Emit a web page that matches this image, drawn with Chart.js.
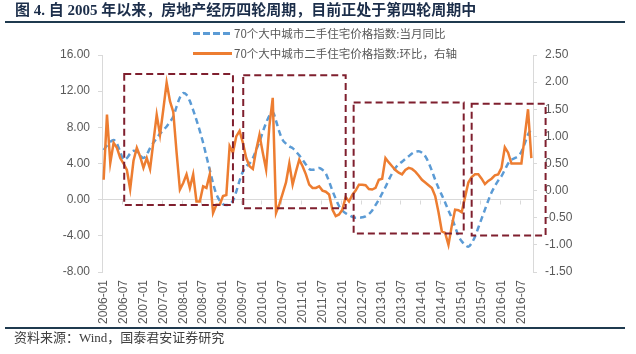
<!DOCTYPE html>
<html>
<head>
<meta charset="utf-8">
<script src="https://cdn.jsdelivr.net/npm/chart.js@4.4.1/dist/chart.umd.min.js"></script>
<style>
  html, body { margin: 0; padding: 0; background: #fff; }
  #wrap { position: relative; width: 636px; height: 354px; overflow: hidden; font-family: 'Noto Sans CJK SC', sans-serif; }
  #wrap canvas { position: absolute; left: 0; top: 0; }
  .title { position: absolute; left: 15px; top: 0; font-family: 'Liberation Serif', 'Noto Sans CJK SC', serif; font-size: 15px; font-weight: 700; color: #1c2e4a; line-height: 20px; white-space: nowrap; }
  .rule { position: absolute; left: 5px; width: 620px; height: 2px; background: #1f3a4f; }
  .legend { position: absolute; left: 193px; font-size: 11.5px; color: #595959; line-height: 14px; white-space: nowrap; display: flex; align-items: center; }
  .legend i { display: inline-block; width: 39px; height: 3px; margin-right: 2px; }
  .source { position: absolute; left: 14px; top: 330px; font-family: 'Liberation Serif', 'Noto Sans CJK SC', serif; font-size: 13px; line-height: 16px; color: #404040; white-space: nowrap; }
</style>
</head>
<body>
<div id="wrap">
  <canvas id="chart" width="636" height="354"></canvas>
  <div class="title">图 4. 自 2005 年以来，房地产经历四轮周期，目前正处于第四轮周期中</div>
  <div class="rule" style="top:21px"></div>
  <div id="legend"></div>
  <div class="rule" style="top:327px"></div>
  <div class="source">资料来源：Wind，国泰君安证券研究</div>
</div>
<script>
/* 70-city second-hand housing price index, monthly from 2006-01 */

const START_YEAR = 2006;
const N_MONTHS   = 130;

const SERIES_YOY = '70个大中城市二手住宅价格指数:当月同比';
const SERIES_MOM = '70个大中城市二手住宅价格指数:环比，右轴';

// year-on-year, %, left axis
const yoy = [
   5.5,  6.0,  6.4,  6.6,  6.2,  5.3,  4.4,  4.6,  5.1,  5.4,
   5.3,  4.9,  4.6,  5.0,  5.7,  6.3,  6.8,  7.3,  7.7,  8.1,
   8.6,  9.2, 10.3, 11.3, 11.8, 11.6, 10.9,  9.9,  8.8,  7.6,
   6.3,  4.8,  3.3,  1.8,  0.6, -0.1, -0.5, -0.6, -0.5, -0.1,
   0.9,  2.1,  3.1,  3.7,  4.0,  4.6,  5.5,  6.4,  7.5,  8.5,
   9.3,  9.7,  8.7,  7.5,  6.6,  6.2,  5.9,  5.7,  5.3,  4.9,
   4.4,  3.9,  3.4,  3.3,  3.4,  3.5,  3.3,  2.9,  2.0,  1.0,
   0.1, -0.7, -1.2, -1.5, -1.7, -1.9, -2.0, -2.0, -1.95, -1.85,
  -1.6, -1.2, -0.6,  0.0,  0.7,  1.4,  2.2,  2.9,  3.5,  3.9,
   4.2,  4.5,  4.8,  5.1,  5.3,  5.35, 5.2,  4.8,  4.1,  3.2,
   2.2,  1.3,  0.5, -0.3, -1.2, -2.0, -3.0, -4.0, -4.6, -5.0,
  -5.2, -4.8, -4.1, -3.1, -2.1, -1.1, -0.1,  0.8,  1.5,  2.1,
   2.6,  3.3,  4.0,  4.4,  4.6,  4.8,  5.3,  6.2,  7.2,  7.8,
];

// month-on-month, %, right axis
const mom = [
   0.20,  1.40,  0.51,  0.88,  0.79,  0.60,  0.50,  0.38,  0.03,  0.55,
   0.79,  0.63,  0.42,  0.60,  0.40,  0.90,  1.40,  1.03,  1.50,  1.99,
   1.65,  1.45,  0.70,  0.02,  0.14,  0.30,  0.05,  0.30, -0.20, -0.20,
   0.08,  0.05,  0.30, -0.41, -0.26, -0.26, -0.10, -0.08,  0.82,  0.70,
   1.00,  1.10,  0.88,  0.60,  0.45,  0.40,  0.75,  1.03,  0.70,  0.39,
   1.20,  1.71, -0.41, -0.25, -0.05,  0.15,  0.50,  0.11,  0.35,  0.57,
   0.45,  0.30,  0.11,  0.05,  0.05,  0.08,  0.00, -0.02, -0.07, -0.35,
  -0.47, -0.44, -0.35, -0.12, -0.20, -0.08,  0.00,  0.11,  0.11,  0.10,
   0.03,  0.02,  0.05,  0.20,  0.22,  0.60,  0.52,  0.45,  0.38,  0.33,
   0.30,  0.38,  0.42,  0.40,  0.35,  0.28,  0.20,  0.15,  0.10,  0.05,
  -0.10, -0.40, -0.75, -0.78, -1.00, -0.65, -0.35, -0.36, -0.40, -0.12,
   0.15,  0.25,  0.30,  0.30,  0.22,  0.12,  0.18,  0.22,  0.28,  0.30,
   0.42,  0.80,  0.70,  0.50,  0.50,  0.50,  0.50,  1.00,  1.50,  0.60,
];

const leftTicks  = [-8, -4, 0, 4, 8, 12, 16];
const rightTicks = [-1.5, -1.0, -0.5, 0, 0.5, 1.0, 1.5, 2.0, 2.5];

// the four cycles: [from month index, to month index, top, bottom] in left-axis units
const cycles = [
  [6.2,   39.0, 13.9, -0.6],
  [42.1,  73.0, 13.75, -0.95],
  [75.4, 108.6, 10.75, -3.75],
  [111.0, 133.3, 10.6, -3.95],
];

const months = [];
for (let i = 0; i < N_MONTHS; i++) {
  const y = START_YEAR + Math.floor(i / 12);
  const m = (i % 12) + 1;
  months.push(y + '-' + String(m).padStart(2, '0'));
}

const BLUE   = '#5B9BD5';
const ORANGE = '#ED7D31';
const AXIS   = '#d9d9d9';
const TEXT   = '#595959';
const BOX    = '#7f1f2e';
const FONT   = "'Liberation Sans', Arial, sans-serif";

/* ── legend (html) ── */
const legend = document.getElementById('legend');
[
  { label: SERIES_YOY, top: 26, swatch: `repeating-linear-gradient(to right, ${BLUE} 0 7px, transparent 7px 10px)` },
  { label: SERIES_MOM, top: 46, swatch: ORANGE },
].forEach(it => {
  const row = document.createElement('div');
  row.className = 'legend';
  row.style.top = it.top + 'px';
  row.innerHTML = `<i style="background:${it.swatch}"></i><span>${it.label}</span>`;
  legend.appendChild(row);
});

/* ── dashed cycle boxes + small ticks on the zero line ── */
const cycleBoxes = {
  id: 'cycleBoxes',
  beforeDatasetsDraw(chart) {
    const { ctx, scales: { x, y } } = chart;
    const y0 = Math.round(y.getPixelForValue(0)) + 0.5;
    ctx.save();
    ctx.strokeStyle = AXIS;
    ctx.lineWidth = 1;
    months.forEach((m, i) => {
      if (!m.endsWith('-01') && !m.endsWith('-07')) return;
      const px = Math.round(x.getPixelForValue(i - 0.5)) + 0.5;
      ctx.beginPath();
      ctx.moveTo(px, y0);
      ctx.lineTo(px, y0 + 4);
      ctx.stroke();
    });
    ctx.restore();
  },
  afterDatasetsDraw(chart) {
    const { ctx, scales: { x, y } } = chart;
    ctx.save();
    ctx.strokeStyle = BOX;
    ctx.lineWidth = 2;
    ctx.setLineDash([7, 4]);
    cycles.forEach(([a, b, top, bottom]) => {
      const x1 = x.getPixelForValue(a), x2 = x.getPixelForValue(b);
      const y1 = y.getPixelForValue(top), y2 = y.getPixelForValue(bottom);
      ctx.strokeRect(x1, y1, x2 - x1, y2 - y1);
    });
    ctx.restore();
  },
};

new Chart(document.getElementById('chart'), {
  type: 'line',
  data: {
    labels: months,
    datasets: [
      {
        label: SERIES_MOM,
        data: mom,
        yAxisID: 'y1',
        borderColor: ORANGE,
        borderWidth: 2.5,
        pointRadius: 0,
        tension: 0,
        order: 0,
      },
      {
        label: SERIES_YOY,
        data: yoy,
        yAxisID: 'y',
        borderColor: BLUE,
        borderWidth: 2.5,
        borderDash: [6, 4],
        pointRadius: 0,
        cubicInterpolationMode: 'monotone',
        order: 1,
      },
    ],
  },
  options: {
    responsive: false,
    animation: false,
    layout: { padding: { top: 55, left: 0, right: 0, bottom: 0 } },
    plugins: { legend: { display: false }, tooltip: { enabled: false } },
    scales: {
      x: {
        offset: true,
        grid: { display: false, drawTicks: false },
        border: { display: false },
        afterFit: s => { s.height = 82; },
        ticks: {
          autoSkip: false,
          minRotation: 90,
          maxRotation: 90,
          padding: 8,
          color: TEXT,
          font: { family: FONT, size: 12 },
          callback: (v, i) => (months[i].endsWith('-01') || months[i].endsWith('-07')) ? months[i] : '',
        },
      },
      y: {
        position: 'left',
        min: leftTicks[0],
        max: leftTicks[leftTicks.length - 1],
        afterFit: s => { s.width = 102; },
        afterBuildTicks: s => { s.ticks = leftTicks.map(v => ({ value: v })); },
        grid: {
          color: c => (c.tick && c.tick.value === 0) ? AXIS : 'rgba(0,0,0,0)',
          tickColor: AXIS,
          tickLength: 4,
        },
        border: { display: true, color: AXIS },
        ticks: {
          padding: 8,
          color: TEXT,
          font: { family: FONT, size: 12 },
          callback: v => v.toFixed(2),
        },
      },
      y1: {
        position: 'right',
        min: rightTicks[0],
        max: rightTicks[rightTicks.length - 1],
        afterFit: s => { s.width = 103; },
        afterBuildTicks: s => { s.ticks = rightTicks.map(v => ({ value: v })); },
        grid: { drawOnChartArea: false, tickColor: AXIS, tickLength: 4 },
        border: { display: true, color: AXIS },
        ticks: {
          padding: 8,
          color: TEXT,
          font: { family: FONT, size: 12 },
          callback: v => v.toFixed(2),
        },
      },
    },
  },
  plugins: [cycleBoxes],
});
</script>
</body>
</html>
